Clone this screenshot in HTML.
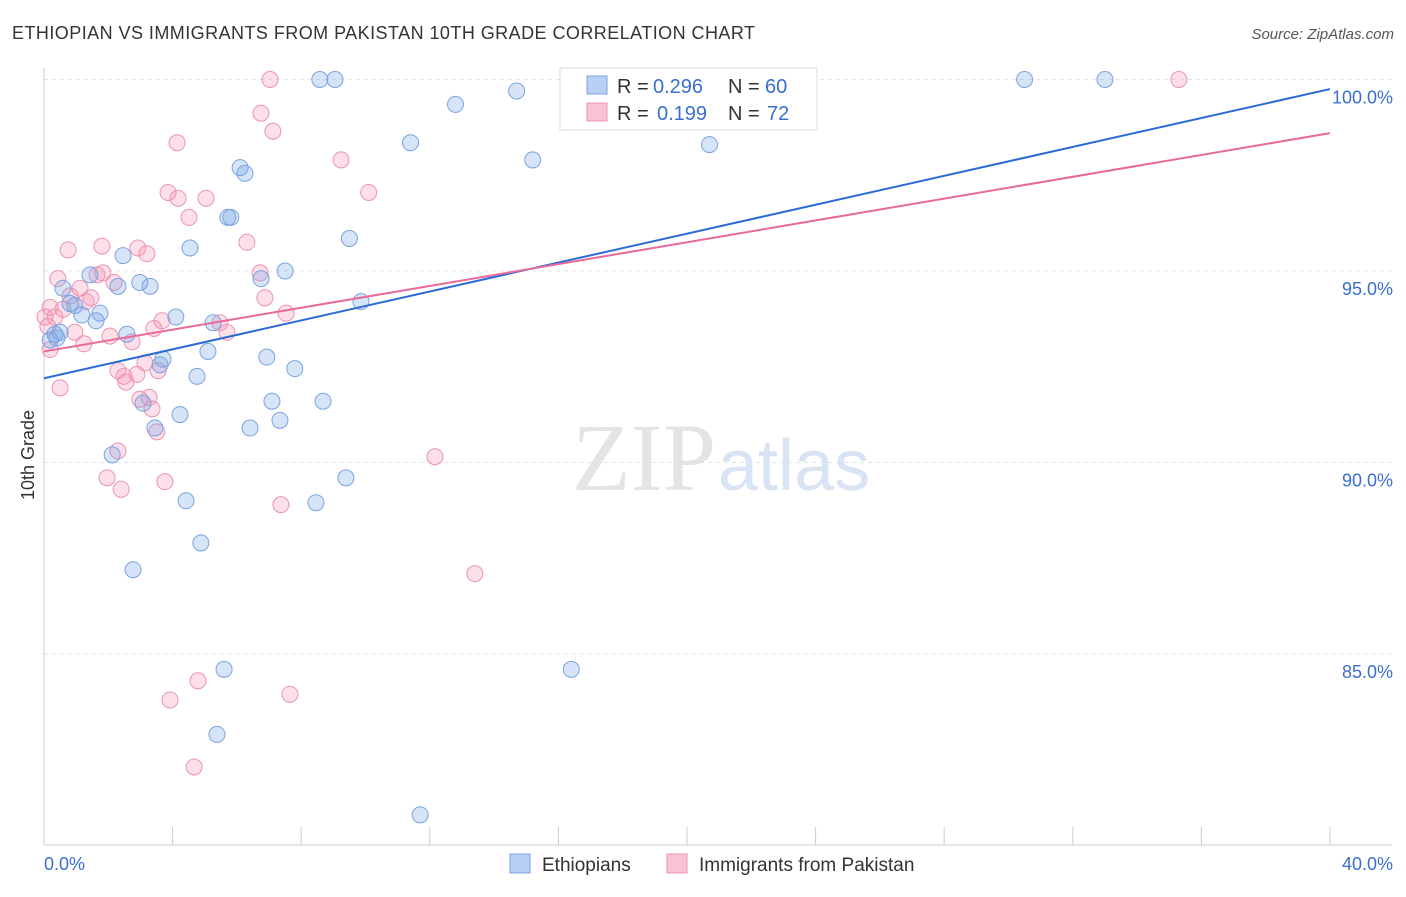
<!DOCTYPE html>
<html><head><meta charset="utf-8">
<style>
body{margin:0;background:#fff;font-family:"Liberation Sans",sans-serif;}
svg text{font-family:"Liberation Sans",sans-serif;}
</style></head>
<body>
<svg id="chart" width="1406" height="892" xmlns="http://www.w3.org/2000/svg">
<text x="12" y="39" font-size="18" fill="#333" letter-spacing="0.45">ETHIOPIAN VS IMMIGRANTS FROM PAKISTAN 10TH GRADE CORRELATION CHART</text>
<text x="1394" y="39" font-size="15" fill="#555" text-anchor="end" font-style="italic">Source: ZipAtlas.com</text>
<g id="grid"></g>
<text x="716" y="490" font-size="96" fill="#e4e4e4" text-anchor="end" style="font-family:'Liberation Serif',serif">ZIP</text>
<text x="718" y="490" font-size="72" fill="#d8e3f3">atlas</text>
<g id="marks"></g>
<text x="34" y="455" font-size="18" fill="#333" text-anchor="middle" transform="rotate(-90 34 455)">10th Grade</text>
<g>
<rect x="560" y="68" width="257" height="62" fill="#fff" stroke="#ddd"/>
<rect x="587" y="76" width="20" height="18" fill="#b8d0f4" stroke="#7aa3e0"/>
<text x="617" y="93" font-size="20" fill="#333">R =</text>
<text x="653" y="93" font-size="20" fill="#3a6fd0">0.296</text>
<text x="728" y="93" font-size="20" fill="#333">N =</text>
<text x="765" y="93" font-size="20" fill="#3a6fd0">60</text>
<rect x="587" y="103" width="20" height="18" fill="#f8c4d4" stroke="#ec93b0"/>
<text x="617" y="120" font-size="20" fill="#333">R =</text>
<text x="657" y="120" font-size="20" fill="#3a6fd0">0.199</text>
<text x="728" y="120" font-size="20" fill="#333">N =</text>
<text x="767" y="120" font-size="20" fill="#3a6fd0">72</text>
</g>
<g>
<rect x="510" y="854" width="20" height="19" fill="#b8d0f4" stroke="#7aa3e0"/>
<text x="542" y="871" font-size="19" fill="#333">Ethiopians</text>
<rect x="667" y="854" width="20" height="19" fill="#f8c4d4" stroke="#ec93b0"/>
<text x="699" y="871" font-size="19" fill="#333">Immigrants from Pakistan</text>
</g>
</svg>
<script>
const xTicks=[0,40];
const yTicks=[85,90,95,100];
const blueX=[8.58,9.05,30.5,33.0,14.7,12.8,11.4,15.2,20.7,6.1,6.25,5.72,5.81,9.5,4.54,2.46,7.5,6.75,1.43,2.98,3.3,2.3,0.59,9.86,0.81,1.74,1.18,1.62,4.1,5.26,0.34,2.58,0.19,5.1,3.7,6.93,7.8,4.76,3.61,7.09,8.68,3.08,4.23,3.45,7.34,6.41,2.12,9.39,4.42,8.46,4.88,2.77,5.6,16.4,5.38,11.7,0.4,0.5,0.96];
const blueY=[100,100,100,100,99.7,99.35,98.35,97.9,98.3,97.7,97.55,96.4,96.4,95.85,95.6,95.4,95.0,94.8,94.9,94.7,94.6,94.6,94.55,94.2,94.15,93.9,93.85,93.7,93.8,93.65,93.35,93.35,93.2,92.9,92.7,92.75,92.45,92.25,92.55,91.6,91.6,91.55,91.25,90.9,91.1,90.9,90.2,89.6,89.0,88.95,87.9,87.2,84.6,84.6,82.9,80.8,93.25,93.4,94.1];
const pinkX=[16.4,7.03,35.3,6.75,7.12,4.14,9.24,10.1,3.86,4.17,5.04,4.51,6.31,0.75,1.8,2.92,3.2,0.43,1.65,1.83,6.72,2.18,1.12,6.87,0.81,1.31,1.46,0.59,7.53,0.19,0.34,3.67,3.42,5.47,5.69,0.96,2.05,2.74,1.24,0.19,3.14,3.55,2.3,2.49,2.89,2.55,3.27,3.36,2.98,3.51,0.5,2.3,12.16,1.96,3.76,2.4,7.37,13.4,4.79,7.65,3.92,4.67,0.03,0.12];
const pinkY=[100,100,100,99.12,98.65,98.35,97.9,97.05,97.05,96.9,96.9,96.4,95.75,95.55,95.65,95.6,95.45,94.8,94.9,94.95,94.95,94.7,94.55,94.3,94.35,94.2,94.3,94.0,93.9,94.05,93.8,93.7,93.5,93.65,93.4,93.4,93.3,93.15,93.1,92.95,92.6,92.4,92.4,92.25,92.3,92.1,91.7,91.4,91.65,90.8,91.95,90.3,90.15,89.6,89.5,89.3,88.9,87.1,84.3,83.95,83.8,82.05,93.8,93.55];
const blueLine=[92.2,99.75];
const pinkLine=[92.9,98.6];
const X=v=>44+v/40*1286;
const Y=v=>79.5+(100-v)*38.3;
const NS="http://www.w3.org/2000/svg";
function mk(tag,attrs,parent){const e=document.createElementNS(NS,tag);for(const k in attrs)e.setAttribute(k,attrs[k]);parent.appendChild(e);return e;}
const grid=document.getElementById('grid');
const marks=document.getElementById('marks');
const svg=document.getElementById('chart');
yTicks.forEach(t=>{
 const l=mk('line',{x1:44,x2:1392,y1:Y(t),y2:Y(t),stroke:'#e4e4e4','stroke-dasharray':'4,4'},grid);
 
 
 const tx=mk('text',{x:1393,y:Y(t)+24,'font-size':18,fill:'#3a6fd0','text-anchor':'end'},svg);
 tx.textContent=t.toFixed(1)+'%';
 
 
});
const ax=mk('line',{x1:44,x2:44,y1:68,y2:845,stroke:'#ccc'},grid);


const bx=mk('line',{x1:44,x2:1392,y1:845,y2:845,stroke:'#ccc'},grid);


for(let i=0;i<=10;i++){
 const t=mk('line',{x1:X(i*4),x2:X(i*4),y1:827,y2:845,stroke:'#ccc'},grid);
 
 
}
xTicks.forEach((t,i)=>{
 const tx=mk('text',{x:i==0?44:1393,y:870,'font-size':18,fill:'#3a6fd0','text-anchor':i==0?'start':'end'},svg);
 tx.textContent=t.toFixed(1)+'%';
 
 
});
pinkX.forEach((x,i)=>{
 const c=mk('circle',{cx:X(x),cy:Y(pinkY[i]),r:8,fill:'rgba(244,150,180,0.3)',stroke:'#ec93b0','stroke-width':1},marks);
 
 
});
blueX.forEach((x,i)=>{
 const c=mk('circle',{cx:X(x),cy:Y(blueY[i]),r:8,fill:'rgba(120,165,230,0.3)',stroke:'#7aa3e0','stroke-width':1},marks);
 
 
});
const bl=mk('line',{x1:X(0),y1:Y(blueLine[0]),x2:X(40),y2:Y(blueLine[1]),stroke:'#2a6bd6','stroke-width':2},marks);


const pl=mk('line',{x1:X(0),y1:Y(pinkLine[0]),x2:X(40),y2:Y(pinkLine[1]),stroke:'#e8699a','stroke-width':2},marks);


</script>
</body></html>
